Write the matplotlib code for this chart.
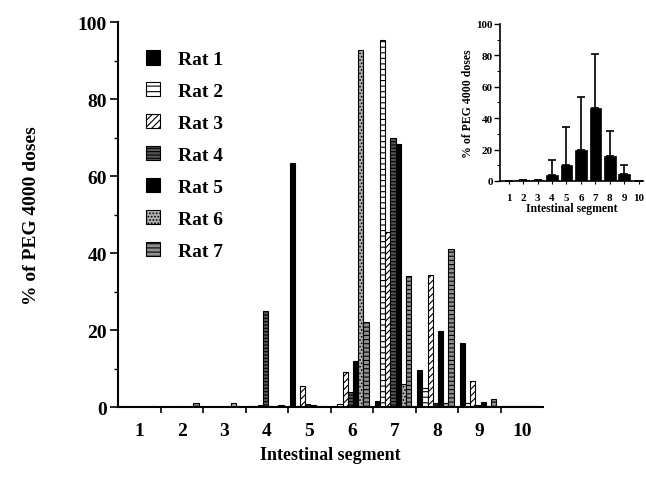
import matplotlib
matplotlib.use("Agg")
import matplotlib.pyplot as plt
import numpy as np
from matplotlib.ticker import MultipleLocator, FixedLocator

plt.rcParams['font.family'] = ['Liberation Serif', 'DejaVu Serif']
plt.rcParams['font.weight'] = 'bold'
plt.rcParams['hatch.linewidth'] = 0.8

segments = [1, 2, 3, 4, 5, 6, 7, 8, 9, 10]
rat_names = ["Rat 1", "Rat 2", "Rat 3", "Rat 4", "Rat 5", "Rat 6", "Rat 7"]
rat1 = [0.2, 0.2, 0.1, 0.3, 63.5, 0.3, 1.5, 9.6, 16.6, 0.3]
rat2 = [0.1, 0.1, 0.1, 0.2, 0.3, 0.8, 95.3, 5.0, 1.0, 0.2]
rat3 = [0.1, 0.1, 0.1, 0.5, 5.5, 9.0, 45.5, 34.3, 6.7, 0.3]
rat4 = [0.1, 0.2, 0.1, 25.0, 0.7, 4.0, 70.0, 1.0, 0.5, 0.2]
rat5 = [0.1, 0.1, 0.1, 0.3, 0.5, 12.0, 68.3, 19.7, 1.3, 0.2]
rat6 = [0.1, 0.1, 1.0, 0.3, 0.3, 92.7, 6.0, 1.0, 0.3, 0.2]
rat7 = [0.2, 1.0, 0.2, 0.5, 0.3, 22.0, 34.0, 41.0, 2.0, 0.3]
rats = [rat1, rat2, rat3, rat4, rat5, rat6, rat7]

inset_mean = [0.2, 0.5, 0.5, 3.8, 10.2, 20.0, 46.3, 16.1, 4.5, 0.1]
inset_sd = [0.0, 0.0, 0.0, 9.6, 24.4, 33.3, 34.6, 15.6, 5.7, 0.0]

styles = [
    dict(facecolor='black', hatch=None),
    dict(facecolor='white', hatch='---'),
    dict(facecolor='white', hatch='/////'),
    dict(facecolor='#555555', hatch='-----'),
    dict(facecolor='black', hatch=None),
    dict(facecolor='#b0b0b0', hatch='.....'),
    dict(facecolor='#909090', hatch='----'),
]

fig = plt.figure(figsize=(6.46, 4.89), dpi=100)
ax = fig.add_axes([0.1827, 0.1656, 0.658, 0.787])

x = np.array(segments, dtype=float)
w = 0.122
off = 0.04
for k, (vals, st) in enumerate(zip(rats, styles)):
    ax.bar(x - 0.5 + off + k * w, vals, width=w, align='edge',
           facecolor=st['facecolor'], hatch=st['hatch'], edgecolor='black',
           linewidth=0.8, label=rat_names[k])

ax.set_xlim(0.5, 10.5)
ax.set_ylim(0, 100)
ax.spines['top'].set_visible(False)
ax.spines['right'].set_visible(False)
ax.spines['left'].set_linewidth(1.5)
ax.spines['bottom'].set_linewidth(1.5)
ax.set_xticks(segments)
ax.set_xticklabels([str(s) for s in segments], fontsize=14, fontweight='bold')
ax.xaxis.set_minor_locator(FixedLocator(np.arange(1.5, 10.5, 1.0)))
ax.tick_params(axis='x', which='major', length=0, pad=11)
ax.tick_params(axis='x', which='minor', length=4, width=1.2, direction='out')
ax.yaxis.set_major_locator(MultipleLocator(20))
ax.yaxis.set_minor_locator(MultipleLocator(10))
ax.tick_params(axis='y', which='major', length=6, width=1.2, labelsize=14, pad=2)
ax.tick_params(axis='y', which='minor', length=3, width=1.0)
for t in ax.get_yticklabels():
    t.set_fontweight('bold')
ax.set_xlabel("Intestinal segment", fontsize=13, fontweight='bold', labelpad=5)
ax.set_ylabel("% of PEG 4000 doses", fontsize=14, fontweight='bold', labelpad=27)

leg = ax.legend(loc='upper left', bbox_to_anchor=(0.065, 0.927), frameon=False,
                fontsize=14, handlelength=0.75, handleheight=0.75,
                labelspacing=0.72, handletextpad=0.9, borderpad=0, borderaxespad=0)
for t in leg.get_texts():
    t.set_fontweight('bold')

# inset
ai = fig.add_axes([0.774, 0.628, 0.2214, 0.321])
ai.bar(x, inset_mean, width=0.8, color='black', edgecolor='black', linewidth=0.5)
ai.errorbar(x, inset_mean, yerr=[np.zeros(len(inset_sd)), inset_sd], fmt='none',
            ecolor='black', elinewidth=1.2, capsize=3, capthick=1.2)
ai.set_xlim(0.4, 10.3)
ai.set_ylim(0, 100)
ai.spines['top'].set_visible(False)
ai.spines['right'].set_visible(False)
ai.spines['left'].set_linewidth(1.2)
ai.spines['bottom'].set_linewidth(1.2)
ai.set_xticks(segments)
ai.set_xticklabels([str(s) for s in segments], fontsize=8, fontweight='bold')
ai.tick_params(axis='x', length=2, width=0.8, pad=7)
ai.yaxis.set_major_locator(MultipleLocator(20))
ai.yaxis.set_minor_locator(MultipleLocator(10))
ai.tick_params(axis='y', which='major', length=4, width=1.0, labelsize=8, pad=1)
ai.tick_params(axis='y', which='minor', length=2, width=0.8)
for t in ai.get_yticklabels():
    t.set_fontweight('bold')
ai.set_xlabel("Intestinal segment", fontsize=8.5, fontweight='bold', labelpad=0)
ai.set_ylabel("% of PEG 4000 doses", fontsize=8.5, fontweight='bold', labelpad=2)

fig.savefig("out.png", dpi=100)
